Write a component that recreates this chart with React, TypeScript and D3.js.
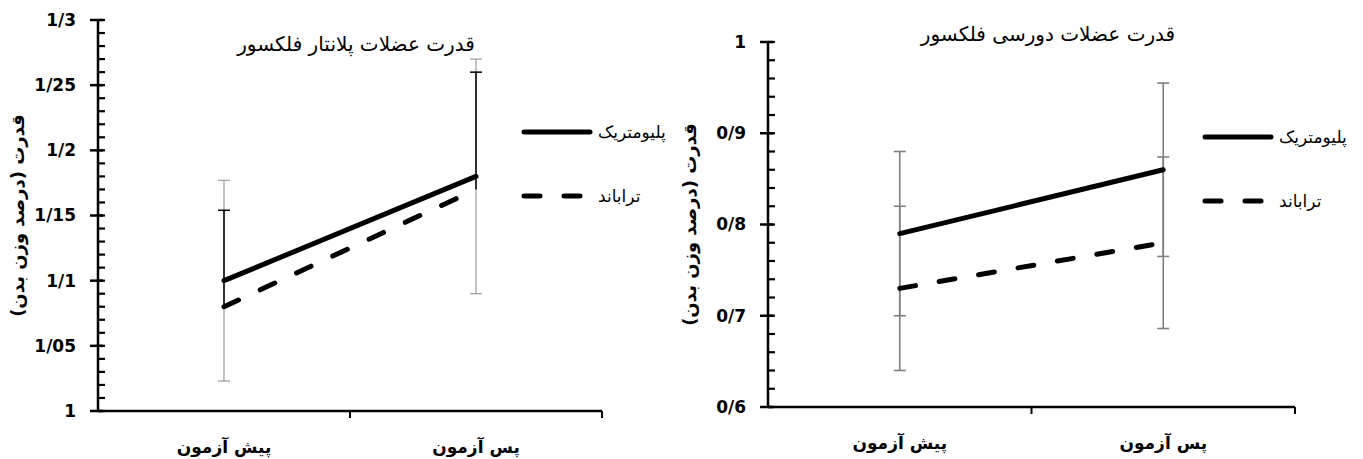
import React from 'react';
import * as d3 from 'd3';

const categories = ['پیش آزمون', 'پس آزمون'];
const seriesNames = ['پلیومتریک', 'تراباند'];

// plantar flexor panel
const plantarPlio = [1.1, 1.18];
const plantarTrab = [1.08, 1.17];
const plantarPlioErr = [0.077, 0.09];
const plantarTrabErrPlus = [0.074, 0.09];
const plantarTicks = [1, 1.05, 1.1, 1.15, 1.2, 1.25, 1.3];

// dorsi flexor panel
const dorsiPlio = [0.79, 0.86];
const dorsiTrab = [0.73, 0.78];
const dorsiPlioErr = [0.09, 0.095];
const dorsiTrabErr = [0.09, 0.094];
const dorsiTicks = [0.6, 0.7, 0.8, 0.9, 1];

const yTitle = 'قدرت (درصد وزن بدن)';
const fa = '"DejaVu Sans", sans-serif';
const tickLabel = (v: number) => String(+v.toFixed(2)).replace('.', '/');

type Bar = { vals: number[]; plus: number[]; minus: number[]; color: string; w: number };

function Panel(p: {
  left: number; right: number; top: number; bottom: number;
  domain: [number, number]; ticks: number[]; minor: number;
  plio: number[]; trab: number[]; bars: Bar[];
  title: string; titleX: number; titleY: number;
  yTitleX: number; legendX: number; legendY: number;
}) {
  const x = d3.scaleBand().domain(categories).range([p.left, p.right]);
  const y = d3.scaleLinear().domain(p.domain).range([p.bottom, p.top]);
  const cx = (c: string) => (x(c) as number) + x.bandwidth() / 2;
  const minorTicks = d3.range(p.domain[0], p.domain[1] + 1e-9, p.minor);
  const line = d3.line<number>().x((_, i) => cx(categories[i])).y(d => y(d));
  const dash = '16 24';

  return (
    <g>
      {p.bars.map((b, k) => (
        <g key={k} stroke={b.color} strokeWidth={b.w}>
          {b.vals.map((v, i) => {
            const xc = cx(categories[i]);
            const hi = y(v + b.plus[i]);
            const lo = y(v - b.minus[i]);
            return (
              <g key={i}>
                <line x1={xc} x2={xc} y1={hi} y2={lo} />
                {b.plus[i] > 0 && <line x1={xc - 6} x2={xc + 6} y1={hi} y2={hi} />}
                {b.minus[i] > 0 && <line x1={xc - 6} x2={xc + 6} y1={lo} y2={lo} />}
              </g>
            );
          })}
        </g>
      ))}
      <path d={line(p.plio) || ''} fill="none" stroke="#000" strokeWidth={5} strokeLinecap="round" />
      <path d={line(p.trab) || ''} fill="none" stroke="#000" strokeWidth={5} strokeLinecap="round" strokeDasharray={dash} />

      {/* y axis */}
      <line x1={p.left} x2={p.left} y1={p.top} y2={p.bottom} stroke="#000" strokeWidth={2.5} />
      {minorTicks.map((t, i) => (
        <line key={i} x1={p.left} x2={p.left + 7} y1={y(t)} y2={y(t)} stroke="#000" strokeWidth={2.2} />
      ))}
      {p.ticks.map(t => (
        <g key={t}>
          <line x1={p.left - 8} x2={p.left + 5} y1={y(t)} y2={y(t)} stroke="#000" strokeWidth={2.5} />
          <text x={p.left - 22} y={y(t)} dy="0.35em" textAnchor="end" fontFamily={fa} fontWeight="bold" fontSize={17}>
            {tickLabel(t)}
          </text>
        </g>
      ))}

      {/* x axis */}
      <line x1={p.left} x2={p.right} y1={p.bottom} y2={p.bottom} stroke="#000" strokeWidth={2.5} />
      {[p.left + x.bandwidth(), p.right].map((xx, i) => (
        <line key={i} x1={xx} x2={xx} y1={p.bottom} y2={p.bottom + 7} stroke="#000" strokeWidth={2} />
      ))}
      {categories.map(c => (
        <text key={c} x={cx(c)} y={p.bottom + 42} textAnchor="middle" fontFamily={fa} fontWeight="bold" fontSize={17}>
          {c}
        </text>
      ))}

      <text x={p.titleX} y={p.titleY} textAnchor="middle" fontFamily={fa} fontSize={20} direction="rtl">
        {p.title}
      </text>
      <text transform={`translate(${p.yTitleX},${(p.top + p.bottom) / 2}) rotate(-90)`} textAnchor="middle"
        fontFamily={fa} fontWeight="bold" fontSize={18} direction="rtl">
        {yTitle}
      </text>

      {/* legend */}
      {seriesNames.map((s, i) => (
        <g key={s} transform={`translate(${p.legendX},${p.legendY + i * 64})`}>
          <line x1={2} x2={68} y1={0} y2={0} stroke="#000" strokeWidth={5} strokeLinecap="round"
            strokeDasharray={i === 1 ? dash : undefined} />
          <text x={76} y={0} dy="0.35em" fontFamily={fa} fontSize={17}>{s}</text>
        </g>
      ))}
    </g>
  );
}

export default function App() {
  return (
    <svg width={1363} height={459} style={{ position: 'absolute', left: 0, top: 0, background: '#fff' }}>
      <Panel left={98} right={602} top={20} bottom={411} domain={[1, 1.3]} ticks={plantarTicks} minor={0.01}
        plio={plantarPlio} trab={plantarTrab}
        bars={[
          { vals: plantarPlio, plus: plantarPlioErr, minus: plantarPlioErr, color: '#9a9a9a', w: 1.2 },
          { vals: plantarTrab, plus: plantarTrabErrPlus, minus: [0, 0], color: '#000', w: 1.5 },
        ]}
        title="قدرت عضلات پلانتار فلکسور" titleX={356} titleY={51} yTitleX={24} legendX={522} legendY={132} />
      <Panel left={768} right={1295} top={42} bottom={407} domain={[0.6, 1]} ticks={dorsiTicks} minor={0.02}
        plio={dorsiPlio} trab={dorsiTrab}
        bars={[
          { vals: dorsiPlio, plus: dorsiPlioErr, minus: dorsiPlioErr, color: '#7f7f7f', w: 1.6 },
          { vals: dorsiTrab, plus: dorsiTrabErr, minus: dorsiTrabErr, color: '#7f7f7f', w: 1.6 },
        ]}
        title="قدرت عضلات دورسی فلکسور" titleX={1048} titleY={41} yTitleX={696} legendX={1203} legendY={137} />
    </svg>
  );
}
